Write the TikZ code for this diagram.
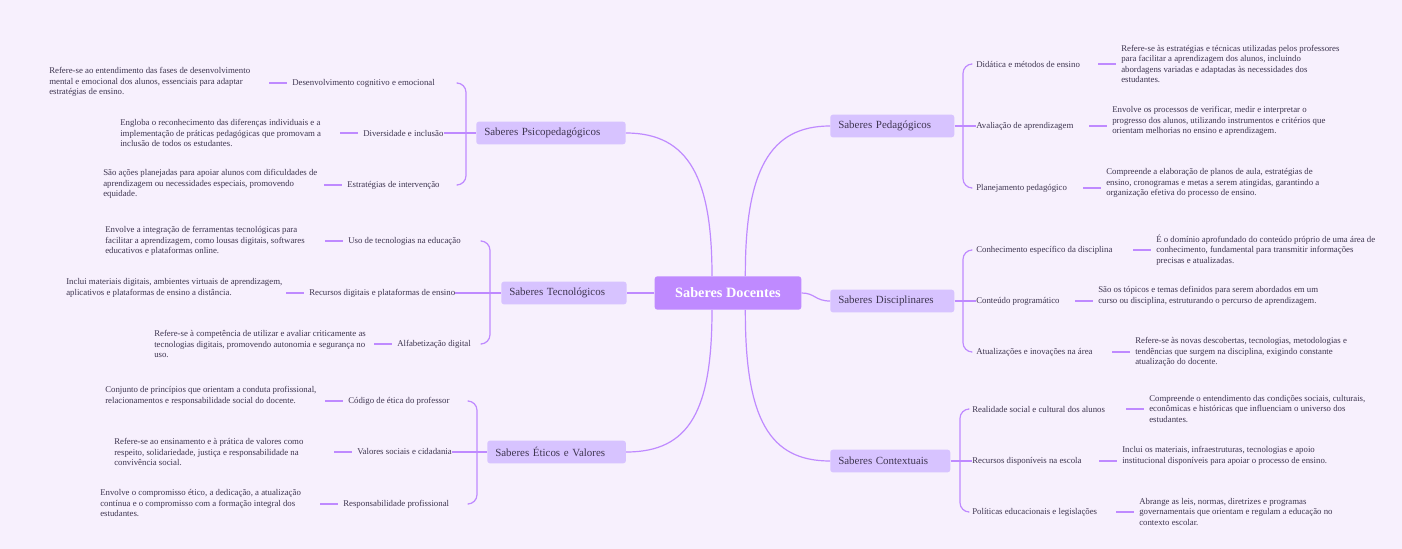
\documentclass[tikz,border=0pt]{standalone}
\usepackage{fontspec}
\setmainfont{Liberation Serif}
\usetikzlibrary{positioning, calc}
\definecolor{bg}{HTML}{F7F0FD}
\definecolor{rootfill}{HTML}{BF8AFF}
\definecolor{branchfill}{HTML}{D7C3FF}
\definecolor{linecol}{HTML}{BF8AFF}
\definecolor{txt}{HTML}{3E3550}
\tikzset{
  root/.style={rectangle, rounded corners=2pt, fill=rootfill, text=white, font=\fontsize{10.7}{12}\selectfont\bfseries, minimum width=110pt, minimum height=25pt},
  branch/.style={rectangle, rounded corners=2pt, fill=branchfill, text=txt, font=\fontsize{8.2}{10}\selectfont, minimum height=17pt, inner xsep=6pt, align=left, anchor=west},
  topic/.style={text=txt, font=\fontsize{6.6}{7.9}\selectfont, inner sep=0pt},
  desc/.style={text=txt, font=\fontsize{6.6}{7.9}\selectfont, inner sep=0pt, align=left, anchor=west},
  link/.style={draw=linecol, line width=0.9pt},
  leafdash/.style={draw=linecol, line width=0.9pt, shorten >=4}
}
\begin{document}
\begin{tikzpicture}[x=0.75pt, y=-0.75pt]
\fill[bg] (0,0) rectangle (1402,549);

% Center
\node (root) [root] at (728,293) {Saberes Docentes};

% Branches
\node (psico) [branch, text width=100pt] at (476,133) {Saberes Psicopedagógicos};
\node (tecno) [branch, text width=82pt] at (501,293) {Saberes Tecnológicos};
\node (etica) [branch, text width=92pt] at (487,452) {Saberes Éticos e Valores};
\node (pedag) [branch, text width=81pt] at (830,126) {Saberes Pedagógicos};
\node (disc)  [branch, text width=81pt] at (830,301) {Saberes Disciplinares};
\node (ctx)   [branch, text width=78pt] at (830,461) {Saberes Contextuais};

\draw [link] ([xshift=-12pt]root.north) .. controls (712,180) and (690,133) .. (psico.east);
\draw [link] (root.west) -- (tecno.east);
\draw [link] ([xshift=-12pt]root.south) .. controls (712,410) and (690,452) .. (etica.east);
\draw [link] ([xshift=13pt]root.north) .. controls (745,170) and (770,126) .. (pedag.west);
\draw [link] (root.east) .. controls (815,293) and (815,301) .. (disc.west);
\draw [link] ([xshift=13pt]root.south) .. controls (745,420) and (770,461) .. (ctx.west);

% Psicopedagogicos
\node (p1) [topic, anchor=west] at (292,83) {Desenvolvimento cognitivo e emocional};
\node (p2) [topic, anchor=west] at (363,133) {Diversidade e inclusão};
\node (p3) [topic, anchor=west] at (347,185) {Estratégias de intervenção};
\node (p1d) [desc] at (49,82) {Refere-se ao entendimento das fases de desenvolvimento\\mental e emocional dos alunos, essenciais para adaptar\\estratégias de ensino.};
\node (p2d) [desc] at (120,133) {Engloba o reconhecimento das diferenças individuais e a\\implementação de práticas pedagógicas que promovam a\\inclusão de todos os estudantes.};
\node (p3d) [desc] at (103,184) {São ações planejadas para apoiar alunos com dificuldades de\\aprendizagem ou necessidades especiais, promovendo\\equidade.};
\coordinate (pb) at (466,133);
\draw [link, rounded corners=7] (458,83) -| (pb) |- (458,185);
\draw [link] (p2.east) -- (psico.west);

% Tecnologicos
\node (t1) [topic, anchor=west] at (348,241) {Uso de tecnologias na educação};
\node (t2) [topic, anchor=west] at (309,293) {Recursos digitais e plataformas de ensino};
\node (t3) [topic, anchor=west] at (397,344) {Alfabetização digital};
\node (t1d) [desc] at (105,241) {Envolve a integração de ferramentas tecnológicas para\\facilitar a aprendizagem, como lousas digitais, softwares\\educativos e plataformas online.};
\node (t2d) [desc] at (66,288) {Inclui materiais digitais, ambientes virtuais de aprendizagem,\\aplicativos e plataformas de ensino a distância.};
\node (t3d) [desc] at (154,344) {Refere-se à competência de utilizar e avaliar criticamente as\\tecnologias digitais, promovendo autonomia e segurança no\\uso.};
\coordinate (tb) at (490,293);
\draw [link, rounded corners=7] (482,241) -| (tb) |- (482,344);
\draw [link] (t2.east) -- (tecno.west);

% Eticos
\node (e1) [topic, anchor=west] at (348,401) {Código de ética do professor};
\node (e2) [topic, anchor=west] at (357,452) {Valores sociais e cidadania};
\node (e3) [topic, anchor=west] at (343,504) {Responsabilidade profissional};
\node (e1d) [desc] at (105,396) {Conjunto de princípios que orientam a conduta profissional,\\relacionamentos e responsabilidade social do docente.};
\node (e2d) [desc] at (114,452) {Refere-se ao ensinamento e à prática de valores como\\respeito, solidariedade, justiça e responsabilidade na\\convivência social.};
\node (e3d) [desc] at (100,503) {Envolve o compromisso ético, a dedicação, a atualização\\contínua e o compromisso com a formação integral dos\\estudantes.};
\coordinate (eb) at (477,452);
\draw [link, rounded corners=7] (469,401) -| (eb) |- (469,504);
\draw [link] (e2.east) -- (etica.west);

\foreach \t/\d in {p1/p1d, p2/p2d, p3/p3d, t1/t1d, t2/t2d, t3/t3d, e1/e1d, e2/e2d, e3/e3d}
  \draw [leafdash] ([xshift=-17]\t.west) -- (\t.west);

% Pedagogicos
\node (g1) [topic, anchor=west] at (976,64) {Didática e métodos de ensino};
\node (g2) [topic, anchor=west] at (976,126) {Avaliação de aprendizagem};
\node (g3) [topic, anchor=west] at (976,188) {Planejamento pedagógico};
\node (g1d) [desc] at (1121,64) {Refere-se às estratégias e técnicas utilizadas pelos professores\\para facilitar a aprendizagem dos alunos, incluindo\\abordagens variadas e adaptadas às necessidades dos\\estudantes.};
\node (g2d) [desc] at (1112,121) {Envolve os processos de verificar, medir e interpretar o\\progresso dos alunos, utilizando instrumentos e critérios que\\orientam melhorias no ensino e aprendizagem.};
\node (g3d) [desc] at (1106,183) {Compreende a elaboração de planos de aula, estratégias de\\ensino, cronogramas e metas a serem atingidas, garantindo a\\organização efetiva do processo de ensino.};
\coordinate (gb) at (963,126);
\draw [link, rounded corners=7] (971,64) -| (gb) |- (971,188);
\draw [link] (pedag.east) -- (g2.west);

% Disciplinares
\node (d1) [topic, anchor=west] at (976,250) {Conhecimento específico da disciplina};
\node (d2) [topic, anchor=west] at (976,301) {Conteúdo programático};
\node (d3) [topic, anchor=west] at (976,352) {Atualizações e inovações na área};
\node (d1d) [desc] at (1156,250) {É o domínio aprofundado do conteúdo próprio de uma área de\\conhecimento, fundamental para transmitir informações\\precisas e atualizadas.};
\node (d2d) [desc] at (1098,296) {São os tópicos e temas definidos para serem abordados em um\\curso ou disciplina, estruturando o percurso de aprendizagem.};
\node (d3d) [desc] at (1135,352) {Refere-se às novas descobertas, tecnologias, metodologias e\\tendências que surgem na disciplina, exigindo constante\\atualização do docente.};
\coordinate (db) at (963,301);
\draw [link, rounded corners=7] (971,250) -| (db) |- (971,352);
\draw [link] (disc.east) -- (d2.west);

% Contextuais
\node (c1) [topic, anchor=west] at (972,409) {Realidade social e cultural dos alunos};
\node (c2) [topic, anchor=west] at (972,461) {Recursos disponíveis na escola};
\node (c3) [topic, anchor=west] at (972,512) {Políticas educacionais e legislações};
\node (c1d) [desc] at (1149,409) {Compreende o entendimento das condições sociais, culturais,\\econômicas e históricas que influenciam o universo dos\\estudantes.};
\node (c2d) [desc] at (1122,456) {Inclui os materiais, infraestruturas, tecnologias e apoio\\institucional disponíveis para apoiar o processo de ensino.};
\node (c3d) [desc] at (1139,512) {Abrange as leis, normas, diretrizes e programas\\governamentais que orientam e regulam a educação no\\contexto escolar.};
\coordinate (cb) at (960,461);
\draw [link, rounded corners=7] (968,409) -| (cb) |- (968,512);
\draw [link] (ctx.east) -- (c2.west);

\foreach \t/\d in {g1/g1d, g2/g2d, g3/g3d, d1/d1d, d2/d2d, d3/d3d, c1/c1d, c2/c2d, c3/c3d}
  \draw [leafdash] ([xshift=-17]\d.west |- \t.west) -- (\d.west |- \t.west);

\end{tikzpicture}
\end{document}
